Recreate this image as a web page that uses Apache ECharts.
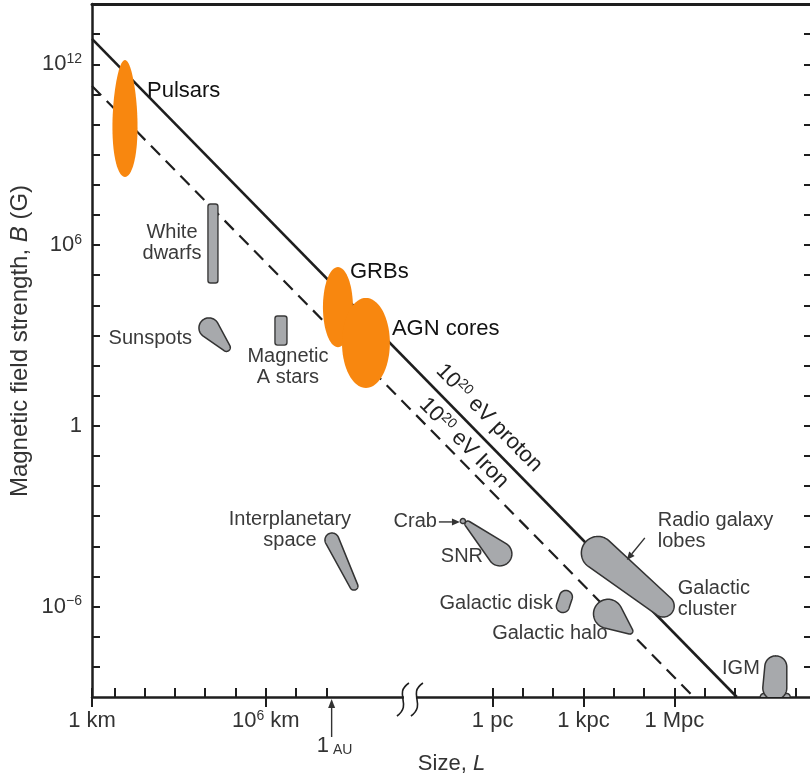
<!DOCTYPE html>
<html><head><meta charset="utf-8">
<script src="https://cdn.jsdelivr.net/npm/echarts@6/dist/echarts.min.js"></script>
<style>html,body{margin:0;padding:0;background:#fff}#c{width:810px;height:778px}</style>
</head><body><div id="c"></div>
<script>
// ---------- data: x = log10(size L / km), y = log10(B / gauss) ----------
const xMin = 0.264, xMax = 24.0, yMin = -9, yMax = 14;
const xTickMinor = [0.264,1,2,3,4,5,6,7,8,13.49,14.49,15.49,16.49,17.49,18.49,19.49,20.49,21.49,22.49,23.49];
const xTickMajor = [0.264,6,13.49,16.49,19.49];
const xTickLabels = ['{n|1 km}','{n|10}{s|6}{n| km}','{n|1 pc}','{n|1 kpc}','{n|1 Mpc}'];
const yTicks = [-8,-7,-6,-5,-4,-3,-2,-1,0,1,2,3,4,5,6,7,8,9,10,11,12,13];
const yLabelValues = [12,6,0,-6];
const yTickLabels = ['{n|10}{s|12}','{n|10}{s|6}','{n|1}','{n|10}{s|\u22126}'];
const auValue = 8.175;      // 1 AU in log10 km
const breakValue = 10.76;   // axis break position

const protonLine = [[0.264,12.84],[21.55,-9]];
const ironLine   = [[0.264,11.28],[20.13,-9]];
const lineLabelTexts = ['{n|10}{s|20}{n| eV proton}','{n|10}{s|20}{n| eV Iron}'];
const lineLabelAnchors = [[13.37,0.26],[12.54,-0.57]];

// orange regions: [L centre, B centre, width (dex), height (dex), egg factor]
const orangeNames = ['Pulsars','GRBs','AGN cores'];
const orangeRegions = [[1.353,10.20,0.82,3.88,0.15],[8.383,3.94,0.99,2.66,0],[9.307,2.75,1.58,2.99,0]];

// grey rectangles: [L1, B1, L2, B2]
const rectNames = ['White dwarfs','Magnetic A stars'];
const rectRegions = [[4.092,7.36,4.422,4.74],[6.304,3.645,6.700,2.68]];

// grey blobs as tapered capsules: [L1, B1, r1, L2, B2, r2] (radii in dex)
const blobNames = ['Sunspots','Interplanetary space','SNR','Crab','Radio galaxy lobes','Galactic halo','Galactic disk','IGM base','IGM'];
const blobRegions = [
  [4.125,3.25,0.33,4.70,2.60,0.13],
  [8.185,-3.79,0.231,8.911,-5.32,0.132],
  [12.673,-3.26,0.099,13.729,-4.25,0.396],
  [12.508,-3.16,0.083,12.508,-3.16,0.083],
  [16.964,-4.22,0.545,19.12,-5.98,0.363],
  [17.30,-6.24,0.48,18.02,-6.81,0.099],
  [15.908,-5.68,0.215,15.809,-5.98,0.215],
  [22.44,-9.0,0.115,23.20,-9.0,0.115],
  [22.838,-8.0,0.363,22.805,-8.70,0.396]
];

const labelTexts = ['Pulsars','GRBs','AGN cores','White\ndwarfs','Sunspots','Magnetic\nA stars','Interplanetary\nspace','Crab','SNR','Galactic disk','Galactic halo','Radio galaxy\nlobes','Galactic\ncluster','IGM'];
const labelAnchors = [[2.08,11.11],[8.78,5.105],[10.165,3.21],[2.904,6.08],[3.564,2.915],[6.733,1.95],[6.799,-3.46],[11.65,-3.19],[11.78,-4.32],[15.48,-5.91],[17.29,-6.876],[18.94,-3.475],[19.60,-5.76],[22.31,-8.07]];
const labelAligns = ['left','left','left','center','right','center','center','right','left','right','right','left','left','right'];
const labelStrong = [1,1,1,0,0,0,0,0,0,0,0,0,0,0];

const pointerArrows = [[11.716,-3.19,12.41,-3.19],[18.515,-3.72,17.92,-4.45]];

// ---------- rendering ----------
const FONT = '"Liberation Sans", Arial, Helvetica, sans-serif';
const INK = '#1e1e1e', TXT = '#333333', GREY = '#a7a9ac', ORANGE = '#f8870f';
const richAxis = {
  n:{fontSize:22,fontFamily:FONT,color:TXT,fill:TXT,lineHeight:24},
  s:{fontSize:14,fontFamily:FONT,color:TXT,fill:TXT,verticalAlign:'top',lineHeight:14}
};
function nearestIdx(arr, v){let k=0,b=1e9;arr.forEach((t,i)=>{const d=Math.abs(t-v);if(d<b){b=d;k=i;}});return k;}

function capsulePts(x1,y1,r1,x2,y2,r2){
  const dx=x2-x1, dy=y2-y1, d=Math.hypot(dx,dy), pts=[], N=48;
  if(d<1e-6){for(let i=0;i<N;i++){const a=2*Math.PI*i/N;pts.push([x1+r1*Math.cos(a),y1+r1*Math.sin(a)]);}return pts;}
  const th=Math.atan2(dy,dx);
  const ph=Math.acos(Math.max(-1,Math.min(1,(r1-r2)/d)));
  for(let i=0;i<=N;i++){const a=th+ph+(2*Math.PI-2*ph)*i/N;pts.push([x1+r1*Math.cos(a),y1+r1*Math.sin(a)]);}
  for(let i=0;i<=N;i++){const a=th-ph+2*ph*i/N;pts.push([x2+r2*Math.cos(a),y2+r2*Math.sin(a)]);}
  return pts;
}

const axisBase = {type:'value',min:xMin,max:xMax,splitLine:{show:false}};
const option = {
  animation:false,
  backgroundColor:'#fff',
  grid:{left:92,top:4,width:719,height:693,containLabel:false,outerBoundsMode:'none'},
  xAxis:[
    Object.assign({},axisBase,{position:'bottom',
      axisLine:{show:true,onZero:false,lineStyle:{color:INK,width:2.5}},
      axisTick:{show:true,inside:true,length:9,customValues:xTickMinor,lineStyle:{color:INK,width:2}},
      axisLabel:{show:false},
      name:'{a|Size, }{i|L}',nameLocation:'middle',nameGap:56,
      nameTextStyle:{rich:{a:{fontSize:22,fontFamily:FONT,color:TXT},i:{fontSize:22,fontFamily:FONT,color:TXT,fontStyle:'italic'}}}}),
    Object.assign({},axisBase,{position:'bottom',
      axisLine:{show:false,onZero:false},
      axisTick:{show:true,inside:false,length:10,customValues:xTickMajor,lineStyle:{color:INK,width:2}},
      axisLabel:{show:true,customValues:xTickMajor,margin:12,rich:richAxis,
        formatter:function(v){return xTickLabels[nearestIdx(xTickMajor,v)];}}}),
    Object.assign({},axisBase,{position:'top',
      axisLine:{show:true,onZero:false,lineStyle:{color:INK,width:3}},
      axisTick:{show:false},axisLabel:{show:false}})
  ],
  yAxis:[
    {type:'value',min:yMin,max:yMax,position:'left',splitLine:{show:false},
      axisLine:{show:true,onZero:false,lineStyle:{color:INK,width:2.5}},
      axisTick:{show:true,inside:true,length:8,customValues:yTicks,lineStyle:{color:INK,width:2}},
      axisLabel:{show:true,customValues:yLabelValues,margin:10,rich:richAxis,
        formatter:function(v){return yTickLabels[nearestIdx(yLabelValues,v)];}}},
    {type:'value',min:yMin,max:yMax,position:'right',splitLine:{show:false},
      axisLine:{show:true,onZero:false,lineStyle:{color:INK,width:2.5}},
      axisTick:{show:true,inside:true,length:7,customValues:yTicks,lineStyle:{color:INK,width:2}},
      axisLabel:{show:false}}
  ],
  graphic:[{type:'text',x:20,y:341,rotation:Math.PI/2,silent:true,
    style:{text:'{a|Magnetic field strength, }{i|B}{a| (G)}',align:'center',verticalAlign:'middle',
      rich:{a:{fontSize:24,fontFamily:FONT,fill:TXT},i:{fontSize:24,fontFamily:FONT,fill:TXT,fontStyle:'italic'}}}}],
  series:[
    {type:'line',name:'10^20 eV proton',data:protonLine,symbol:'none',silent:true,z:2,
      lineStyle:{color:INK,width:2.6}},
    {type:'line',name:'10^20 eV Iron',data:ironLine,symbol:'none',silent:true,z:2,
      lineStyle:{color:INK,width:2.2,type:[13,8]}},
    {type:'custom',name:'regions',data:rectRegions,silent:true,z:3,clip:true,
      renderItem:function(params,api){
        const a=api.coord([api.value(0),api.value(1)]), b=api.coord([api.value(2),api.value(3)]);
        return {type:'rect',shape:{x:Math.min(a[0],b[0]),y:Math.min(a[1],b[1]),width:Math.abs(b[0]-a[0]),height:Math.abs(b[1]-a[1]),r:2.5},
          style:{fill:GREY,stroke:'#3a3a3a',lineWidth:1.4}};
      }},
    {type:'custom',name:'blobs',data:blobRegions,silent:true,z:3,clip:true,
      renderItem:function(params,api){
        const s=api.size([1,1])[0];
        const a=api.coord([api.value(0),api.value(1)]), b=api.coord([api.value(3),api.value(4)]);
        return {type:'polygon',shape:{points:capsulePts(a[0],a[1],api.value(2)*s,b[0],b[1],api.value(5)*s)},
          style:{fill:GREY,stroke:'#333',lineWidth:1.5}};
      }},
    {type:'custom',name:'orange',data:orangeRegions,silent:true,z:4,clip:true,
      renderItem:function(params,api){
        const c=api.coord([api.value(0),api.value(1)]), sz=api.size([api.value(2),api.value(3)]);
        const rx=sz[0]/2, ry=sz[1]/2, k=api.value(4), pts=[];
        for(let i=0;i<72;i++){const t=2*Math.PI*i/72;pts.push([c[0]+rx*Math.cos(t)*(1+k*Math.sin(t)),c[1]+ry*Math.sin(t)]);}
        return {type:'polygon',shape:{points:pts},style:{fill:ORANGE}};
      }},
    {type:'custom',name:'pointers',data:pointerArrows,silent:true,z:5,
      renderItem:function(params,api){
        const a=api.coord([api.value(0),api.value(1)]), b=api.coord([api.value(2),api.value(3)]);
        const ang=Math.atan2(b[1]-a[1],b[0]-a[0]), L=8, W=3.5;
        const bx=b[0]-L*Math.cos(ang), by=b[1]-L*Math.sin(ang);
        return {type:'group',children:[
          {type:'line',shape:{x1:a[0],y1:a[1],x2:bx,y2:by},style:{stroke:'#333',lineWidth:1.4}},
          {type:'polygon',shape:{points:[[b[0],b[1]],[bx-W*Math.sin(ang),by+W*Math.cos(ang)],[bx+W*Math.sin(ang),by-W*Math.cos(ang)]]},style:{fill:'#333'}}
        ]};
      }},
    {type:'custom',name:'labels',data:labelAnchors,silent:true,z:6,
      renderItem:function(params,api){
        const i=params.dataIndex, p=api.coord([api.value(0),api.value(1)]), st=labelStrong[i];
        return {type:'text',x:p[0],y:p[1],style:{text:labelTexts[i],fill:st?'#111':'#3a3a3a',
          fontSize:st?22:20,fontFamily:FONT,align:labelAligns[i],verticalAlign:'middle',lineHeight:21}};
      }},
    {type:'custom',name:'lineLabels',data:lineLabelAnchors,silent:true,z:6,
      renderItem:function(params,api){
        const i=params.dataIndex, ln=[protonLine,ironLine][i];
        const a=api.coord(ln[0]), b=api.coord(ln[1]);
        const rot=-Math.atan2(b[1]-a[1],b[0]-a[0]);
        const p=api.coord([api.value(0),api.value(1)]);
        return {type:'text',x:p[0],y:p[1],rotation:rot,style:{text:lineLabelTexts[i],align:'center',verticalAlign:'middle',
          rich:{n:{fontSize:22,fontFamily:FONT,fill:'#222',lineHeight:24},s:{fontSize:14,fontFamily:FONT,fill:'#222',verticalAlign:'top',lineHeight:14}}}};
      }},
    {type:'custom',name:'axisMarks',data:[[auValue,yMin,breakValue]],silent:true,z:7,clip:false,
      renderItem:function(params,api){
        const au=api.coord([api.value(0),api.value(1)]);
        const br=api.coord([api.value(2),api.value(1)]);
        const x=br[0], y=br[1];
        const sCurve=function(cx){return {type:'bezierCurve',shape:{x1:cx-6,y1:y+19,x2:cx+6,y2:y-14,cpx1:cx+10,cpy1:y+7,cpx2:cx-10,cpy2:y-3},style:{stroke:INK,lineWidth:1.6,fill:null}};};
        return {type:'group',children:[
          {type:'rect',shape:{x:x-6,y:y-3,width:12,height:6},style:{fill:'#fff'}},
          sCurve(x-7), sCurve(x+7),
          {type:'line',shape:{x1:au[0],y1:y+40,x2:au[0],y2:y+10},style:{stroke:'#333',lineWidth:1.4}},
          {type:'polygon',shape:{points:[[au[0],y+2],[au[0]-3.5,y+11],[au[0]+3.5,y+11]]},style:{fill:'#333'}},
          {type:'text',x:au[0]+3,y:y+48,style:{text:'{n|1}{u| AU}',align:'center',verticalAlign:'middle',
            rich:{n:{fontSize:22,fontFamily:FONT,fill:TXT,lineHeight:24,verticalAlign:'bottom'},u:{fontSize:14,fontFamily:FONT,fill:TXT,verticalAlign:'bottom',lineHeight:20}}}}
        ]};
      }}
  ]
};
const chart = echarts.init(document.getElementById('c'),null,{renderer:'canvas'});
chart.setOption(option);
</script></body></html>
